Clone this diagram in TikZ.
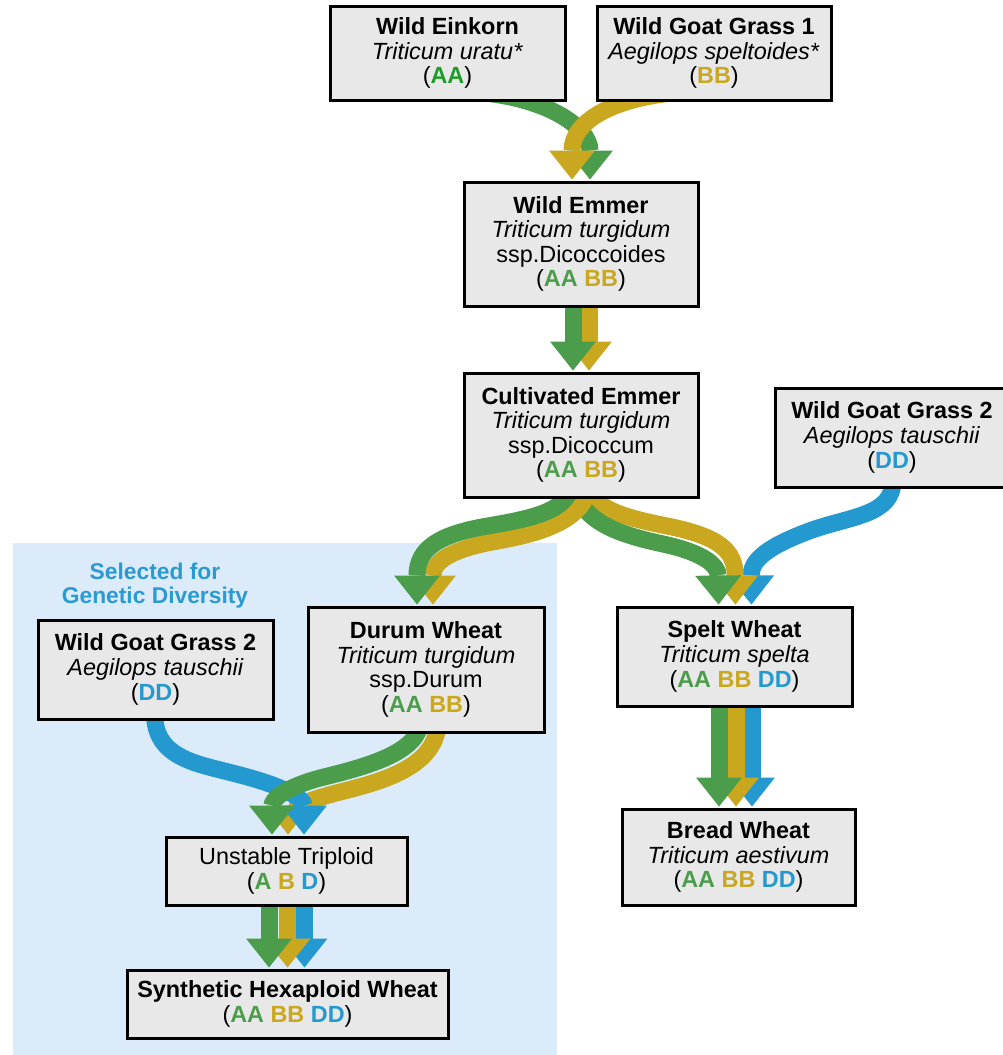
\documentclass[tikz,border=0pt]{standalone}
\usepackage{fontspec}
\setmainfont{Liberation Sans}
\usetikzlibrary{arrows.meta,calc}
\definecolor{gr}{HTML}{4B9D4B}
\definecolor{ye}{HTML}{C9A820}
\definecolor{bl}{HTML}{2399CF}
\definecolor{grb}{HTML}{1F9B2B}
\definecolor{boxgray}{HTML}{E8E8E8}
\definecolor{bgblue}{HTML}{DCEBFA}
\definecolor{titleblue}{HTML}{2B9AD2}
\pgfdeclarelayer{back}\pgfdeclarelayer{mid}\pgfsetlayers{back,mid,main}
\newcommand{\gAA}[1]{\textbf{\textcolor{gr}{#1}}}
\newcommand{\yBB}[1]{\textbf{\textcolor{ye}{#1}}}
\newcommand{\bDD}[1]{\textbf{\textcolor{bl}{#1}}}
\begin{document}
\begin{tikzpicture}[x=1pt,y=-1pt,
  box/.style={draw=black, line width=3pt, fill=boxgray, align=center, inner sep=0pt,
    font=\fontsize{23.4}{24.6}\selectfont},
  strand/.style={line width=17pt, draw=#1, -{Triangle[width=46pt,length=29pt,line width=0pt]}}]
\useasboundingbox (0,0) rectangle (1003,1055);

% boxes
\node[box, minimum width=235pt, minimum height=94pt] (einkorn) at (447.5,53)
  {\textbf{Wild Einkorn}\\\textit{Triticum uratu*}\\(\textbf{\textcolor{grb}{AA}})};
\node[box, minimum width=234pt, minimum height=94pt] (wgg1) at (714,53)
  {\textbf{Wild Goat Grass 1}\\\textit{Aegilops speltoides*}\\(\yBB{BB})};
\node[box, minimum width=234pt, minimum height=124pt] (emmer) at (581,244)
  {\textbf{Wild Emmer}\\\textit{Triticum turgidum}\\ssp.Dicoccoides\\(\gAA{AA} \yBB{BB})};
\node[box, minimum width=234pt, minimum height=124pt] (cult) at (581,435)
  {\textbf{Cultivated Emmer}\\\textit{Triticum turgidum}\\ssp.Dicoccum\\(\gAA{AA} \yBB{BB})};
\node[box, minimum width=234pt, minimum height=99pt] (wggr) at (892,437.5)
  {\textbf{Wild Goat Grass 2}\\\textit{Aegilops tauschii}\\(\bDD{DD})};
\node[box, minimum width=236pt, minimum height=125pt] (durum) at (426,669.5)
  {\textbf{Durum Wheat}\\\textit{Triticum turgidum}\\ssp.Durum\\(\gAA{AA} \yBB{BB})};
\node[box, minimum width=235pt, minimum height=99pt] (wggl) at (155.5,669.5)
  {\textbf{Wild Goat Grass 2}\\\textit{Aegilops tauschii}\\(\bDD{DD})};
\node[box, minimum width=235pt, minimum height=99pt] (spelt) at (734.5,656.5)
  {\textbf{Spelt Wheat}\\\textit{Triticum spelta}\\(\gAA{AA} \yBB{BB} \bDD{DD})};
\node[box, minimum width=233pt, minimum height=96pt] (bread) at (738.5,857)
  {\textbf{Bread Wheat}\\\textit{Triticum aestivum}\\(\gAA{AA} \yBB{BB} \bDD{DD})};
\node[box, minimum width=241pt, minimum height=68pt] (trip) at (286.5,871)
  {Unstable Triploid\\(\gAA{A} \yBB{B} \bDD{D})};
\node[box, minimum width=321pt, minimum height=68pt] (synth) at (287.5,1004)
  {\textbf{Synthetic Hexaploid Wheat}\\(\gAA{AA} \yBB{BB} \bDD{DD})};

\begin{pgfonlayer}{back}
\fill[bgblue] (13,543) rectangle (557,1060);
\end{pgfonlayer}
\node[font=\fontsize{22.8}{24}\selectfont\bfseries, text=titleblue, align=center] (title) at (155,586)
  {Selected for\\Genetic Diversity};

\begin{pgfonlayer}{mid}
% top crossing
\draw[strand=gr] ($(einkorn.south)+(20,-10)$) .. controls (548,96) and (590,128) .. ($(emmer.north)+(9,-1)$);
\draw[strand=ye] ($(wgg1.south)+(-24,-10)$) .. controls (612,96) and (572,122) .. ($(emmer.north)+(-9,-1)$);
% emmer -> cultivated
\draw[strand=ye] ($(emmer.south)+(8,-6)$) -- ($(cult.north)+(8,-1)$);
\draw[strand=gr] ($(emmer.south)+(-8,-6)$) -- ($(cult.north)+(-8,-1)$);
% split
\draw[strand=bl] ($(wggr.south)+(1,-8)$) .. controls (893,515) and (852,516) .. (812,530)
  .. controls (768,546) and (751,560) .. ($(spelt.north)+(17,-1)$);
\draw[strand=ye] ($(cult.south)+(7,-8)$) .. controls (600,512) and (632,519) .. (672,527)
  .. controls (718,537) and (735,550) .. ($(spelt.north)+(1,-1)$);
\draw[strand=gr] ($(cult.south)+(-6,-8)$) .. controls (585,524) and (622,535) .. (663,544)
  .. controls (705,553) and (718,566) .. ($(spelt.north)+(-16,-1)$);
\draw[strand=ye] ($(cult.south)+(7,-8)$) .. controls (580,524) and (532,535) .. (492,542)
  .. controls (450,550) and (433,562) .. ($(durum.north)+(7,-1)$);
\draw[strand=gr] ($(cult.south)+(-11,-8)$) .. controls (562,514) and (522,520) .. (482,527)
  .. controls (440,535) and (417,548) .. ($(durum.north)+(-9,-1)$);
% spelt -> bread
\draw[strand=bl] ($(spelt.south)+(17.5,-6)$) -- ($(bread.north)+(13.5,-1)$);
\draw[strand=ye] ($(spelt.south)+(1.5,-6)$) -- ($(bread.north)+(-2.5,-1)$);
\draw[strand=gr] ($(spelt.south)+(-15.5,-6)$) -- ($(bread.north)+(-19.5,-1)$);
% triploid crossing
\draw[strand=ye] ($(durum.south)+(12,-8)$) .. controls (434,768) and (380,782) .. (340,792)
  .. controls (300,802) and (288,812) .. ($(trip.north)+(1.5,-1)$);
\draw[strand=bl] ($(wggl.south)+(-1,-8)$) .. controls (154,760) and (200,764) .. (240,775)
  .. controls (290,788) and (304,800) .. ($(trip.north)+(17.5,-1)$);
\draw[strand=gr] ($(durum.south)+(-6,-8)$) .. controls (414,755) and (360,768) .. (320,778)
  .. controls (283,788) and (272,800) .. ($(trip.north)+(-14.5,-1)$);
% triploid -> synthetic
\draw[strand=bl] ($(trip.south)+(18,-6)$) -- ($(synth.north)+(17,-1)$);
\draw[strand=ye] ($(trip.south)+(1,-6)$) -- ($(synth.north)+(0,-1)$);
\draw[strand=gr] ($(trip.south)+(-17.5,-6)$) -- ($(synth.north)+(-18.5,-1)$);
\end{pgfonlayer}
\end{tikzpicture}
\end{document}
